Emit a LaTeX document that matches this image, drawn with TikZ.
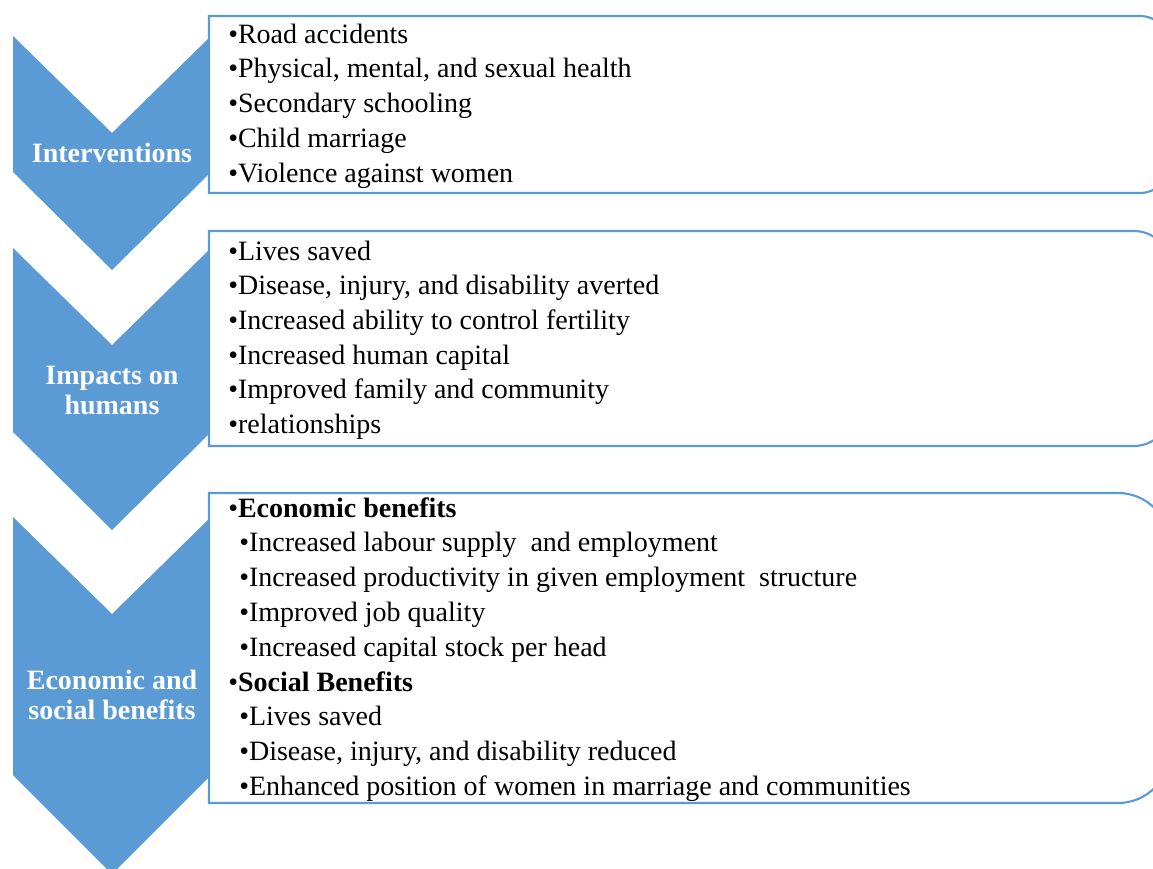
\documentclass[tikz,border=0pt]{standalone}
\usepackage{fontspec}
\setmainfont{Liberation Serif}
\usetikzlibrary{positioning}
\definecolor{chevronfill}{RGB}{91,155,213}
\definecolor{boxborder}{RGB}{91,155,213}

\begin{document}
\begin{tikzpicture}[
        x=0.75pt, y=0.75pt,
        chevron/.style={fill=chevronfill},
        listbox/.style={draw=boxborder, line width=1.6pt, fill=white},
        steplabel/.style={
                text=white, align=center, inner sep=0pt,
                font=\fontsize{21}{22.5}\selectfont\bfseries
            },
        item/.style={anchor=base west, inner sep=0pt, font=\fontsize{21}{26}\selectfont}
    ]

    \useasboundingbox (0,0) rectangle (1153,-868);

    % ===== Chevrons (left column) =====
    \fill[chevron] (13,-36) -- (112,-133) -- (211,-36) -- (211,-172) -- (112,-270) -- (13,-172) -- cycle;
    \fill[chevron] (13,-248) -- (112,-345) -- (211,-248) -- (211,-432) -- (112,-530) -- (13,-432) -- cycle;
    \fill[chevron] (13,-517) -- (112,-614) -- (211,-517) -- (211,-775) -- (112,-874) -- (13,-775) -- cycle;

    \node[steplabel, anchor=base] (interventions) at (112,-162) {Interventions};
    \node[steplabel] (impacts) at (112,-390) {Impacts on\\humans};
    \node[steplabel] (benefits) at (112,-695) {Economic and\\social benefits};

    % ===== List boxes (square left, rounded right) =====
    \draw[listbox] (209,-16) -- (1140,-16) arc[start angle=90, end angle=0, radius=22.5pt]
        -- (1170,-163) arc[start angle=0, end angle=-90, radius=22.5pt] -- (209,-193) -- cycle;
    \draw[listbox] (209,-231) -- (1134,-231) arc[start angle=90, end angle=0, radius=27pt]
        -- (1170,-410) arc[start angle=0, end angle=-90, radius=27pt] -- (209,-446) -- cycle;
    \draw[listbox] (209,-493) -- (1118,-493) arc[start angle=90, end angle=0, radius=39pt]
        -- (1170,-751) arc[start angle=0, end angle=-90, radius=39pt] -- (209,-803) -- cycle;

    % ===== Box texts =====
    \foreach \txt [count=\i] in {Road accidents, {Physical, mental, and sexual health},
            Secondary schooling, Child marriage, Violence against women}
        \node[item] (interv-\i) at (228,{-43-34.75*(\i-1)}) {•\txt};

    \foreach \txt [count=\i] in {Lives saved, {Disease, injury, and disability averted},
            Increased ability to control fertility, Increased human capital,
            Improved family and community, relationships}
        \node[item] (impact-\i) at (228,{-260-34.7*(\i-1)}) {•\txt};

    \foreach \lvl/\txt [count=\i] in {0/\textbf{Economic benefits},
            1/Increased labour supply~ and employment,
            1/Increased productivity in given employment~ structure,
            1/Improved job quality,
            1/Increased capital stock per head,
            0/\textbf{Social Benefits},
            1/Lives saved,
            1/{Disease, injury, and disability reduced},
            1/Enhanced position of women in marriage and communities}
        \node[item] (benefit-\i) at ({228+11*\lvl},{-517-34.8*(\i-1)}) {•\txt};

\end{tikzpicture}
\end{document}
